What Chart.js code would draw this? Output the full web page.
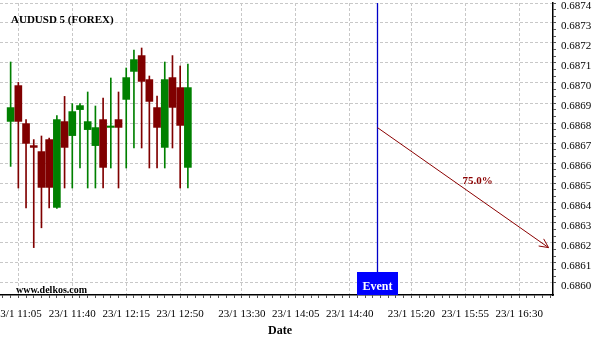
<!DOCTYPE html>
<html><head><meta charset="utf-8">
<script src="https://cdn.jsdelivr.net/npm/chart.js@4/dist/chart.umd.min.js"></script>
<style>html,body{margin:0;padding:0;background:#fff}canvas{display:block}</style>
</head><body>
<canvas id="c" width="600" height="340"></canvas>
<script>
const chartTitle = 'AUDUSD 5 (FOREX)';
const watermark = 'www.delkos.com';
const axisTitle = 'Date';
const dateLabel = '23/1';
const times  = ['11:00','11:05','11:10','11:15','11:20','11:25','11:30','11:35','11:40','11:45','11:50','11:55',
                '12:00','12:05','12:10','12:15','12:20','12:25','12:30','12:35','12:40','12:45','12:50','12:55'];
const opens  = [0.686808,0.686987,0.686797,0.686687,0.686657,0.686717,0.686378,0.686807,0.686737,0.686867,0.686767,0.686687,
                0.686817,0.686778,0.686817,0.686918,0.687058,0.687137,0.687017,0.686877,0.686678,0.687027,0.686977,0.686578];
const highs  = [0.687105,0.687003,0.686817,0.686717,0.686735,0.686725,0.686837,0.686933,0.686897,0.686897,0.686955,0.686885,
                0.686925,0.687025,0.686955,0.687075,0.687165,0.687175,0.687035,0.686935,0.687105,0.687137,0.687085,0.687095];
const lows   = [0.686583,0.686475,0.686375,0.686177,0.686276,0.686375,0.686373,0.686475,0.686475,0.686575,0.686475,0.686475,
                0.686475,0.686575,0.686475,0.686575,0.686675,0.686675,0.686575,0.686575,0.686575,0.686675,0.686475,0.686475];
const closes = [0.686877,0.686808,0.686698,0.686678,0.686478,0.686478,0.686817,0.686678,0.686857,0.686887,0.686807,0.686777,
                0.686578,0.686785,0.686778,0.687027,0.687117,0.687008,0.686908,0.686778,0.687017,0.686878,0.686788,0.686977];
const tickTimes = ['11:05','11:40','12:15','12:50','13:30','14:05','14:40','15:20','15:55','16:30'];
const eventTime = '14:58';
const eventLabel = 'Event';
const forecastStart = {time:'14:58', value:0.686777};
const forecastEnd   = {time:'16:49', value:0.686177};
const forecastText  = '75.0%';
const forecastTextAt = {time:'16:03', value:0.686510};

const toMin = t => { const [h,m] = t.split(':').map(Number); return h*60 + m - 660; };
const tickMins = tickTimes.map(toMin);
const UP = '#008000', DOWN = '#800000';
const colors = opens.map((o,i) => closes[i] >= o ? UP : DOWN);
const SERIF = '"Liberation Serif", "Times New Roman", serif';

const overlay = {
  id: 'overlay',
  afterDatasetsDraw(chart) {
    const {ctx, chartArea: a, scales: {x, y}} = chart;
    ctx.save();
    ctx.fillStyle = '#000';
    ctx.textAlign = 'left'; ctx.textBaseline = 'middle';
    ctx.font = 'bold 11px ' + SERIF;
    ctx.fillText(chartTitle, 11, 20);
    ctx.font = 'bold 10px ' + SERIF;
    ctx.fillText(watermark, 16, 290);
    const ex = Math.round(x.getPixelForValue(toMin(eventTime))) + 0.5;
    ctx.strokeStyle = '#0000c8'; ctx.lineWidth = 1.3;
    ctx.beginPath(); ctx.moveTo(ex, a.top); ctx.lineTo(ex, a.bottom); ctx.stroke();
    ctx.fillStyle = '#0000ff';
    ctx.fillRect(ex - 20.5, a.bottom - 23, 41, 23);
    ctx.fillStyle = '#fff'; ctx.textAlign = 'center';
    ctx.font = 'bold 12px ' + SERIF;
    ctx.fillText(eventLabel, ex, a.bottom - 8);
    const x1 = x.getPixelForValue(toMin(forecastStart.time)), y1 = y.getPixelForValue(forecastStart.value);
    const x2 = x.getPixelForValue(toMin(forecastEnd.time)),   y2 = y.getPixelForValue(forecastEnd.value);
    ctx.strokeStyle = '#8b0000'; ctx.lineWidth = 1;
    ctx.beginPath(); ctx.moveTo(x1, y1); ctx.lineTo(x2, y2); ctx.stroke();
    const ang = Math.atan2(y2 - y1, x2 - x1), L = 10, sp = 0.45;
    ctx.beginPath();
    ctx.moveTo(x2 - L*Math.cos(ang - sp), y2 - L*Math.sin(ang - sp));
    ctx.lineTo(x2, y2);
    ctx.lineTo(x2 - L*Math.cos(ang + sp), y2 - L*Math.sin(ang + sp));
    ctx.stroke();
    ctx.fillStyle = '#8b0000'; ctx.font = 'bold 11px ' + SERIF;
    ctx.fillText(forecastText, x.getPixelForValue(toMin(forecastTextAt.time)), y.getPixelForValue(forecastTextAt.value));
    ctx.fillStyle = '#000'; ctx.font = 'bold 12px ' + SERIF;
    ctx.fillText(axisTitle, 280, 331);
    ctx.restore();
  }
};

const isMajorY = v => Math.abs(v*10000 - Math.round(v*10000)) < 1e-6;

new Chart(document.getElementById('c'), {
  type: 'bar',
  data: {
    datasets: [
      { label: 'body', data: times.map((t,i) => ({x: toMin(t), y: [opens[i], closes[i]]})),
        backgroundColor: colors, borderWidth: 0, barThickness: 7, grouped: false, borderSkipped: false },
      { label: 'wick', data: times.map((t,i) => ({x: toMin(t), y: [lows[i], highs[i]]})),
        backgroundColor: colors, borderWidth: 0, barThickness: 1, grouped: false, borderSkipped: false }
    ]
  },
  options: {
    responsive: false, animation: false, devicePixelRatio: 1,
    layout: { padding: { top: 3, left: 0, right: 0, bottom: 0 } },
    plugins: { legend: { display: false }, tooltip: { enabled: false } },
    scales: {
      x: {
        type: 'linear', offset: false, min: -6.9, max: 351.9,
        afterBuildTicks(s) {
          const t = [];
          for (let m = -5; m <= 350; m += 5) t.push({value: m});
          s.ticks = t;
        },
        afterFit(s) { s.height = 45; s.paddingLeft = 0; s.paddingRight = 0; },
        grid: {
          offset: false, drawOnChartArea: true, tickLength: 3,
          color: c => tickMins.includes(c.tick && c.tick.value) ? '#c8c8c8' : 'rgba(0,0,0,0)',
          tickColor: '#555', lineWidth: 1
        },
        border: { display: true, color: '#000', width: 1.5, dash: [3,2] },
        ticks: {
          autoSkip: false, maxRotation: 0, minRotation: 0, padding: 10, color: '#000',
          font: { family: SERIF, size: 11 },
          callback: v => { const i = tickMins.indexOf(v); return i >= 0 ? dateLabel + ' ' + tickTimes[i] : ''; }
        }
      },
      y: {
        type: 'linear', position: 'right', min: 0.68594, max: 0.6874,
        afterBuildTicks(s) {
          const t = [];
          for (let i = 0; i <= 42; i++) t.push({value: +(0.6860 + i*0.0001/3).toFixed(7)});
          s.ticks = t;
        },
        afterFit(s) { s.width = 47; s.paddingTop = 0; s.paddingBottom = 0; },
        grid: {
          tickLength: 3,
          color: c => (c.tick && isMajorY(c.tick.value)) ? '#c8c8c8' : 'rgba(0,0,0,0)',
          tickColor: '#555', lineWidth: 1
        },
        border: { display: true, color: '#000', width: 1.5, dash: [3,2] },
        ticks: {
          autoSkip: false, padding: 5, color: '#000', labelOffset: 3,
          font: { family: SERIF, size: 11 },
          callback: v => isMajorY(v) ? v.toFixed(4) : ''
        }
      }
    }
  },
  plugins: [overlay]
});
</script>
</body></html>
